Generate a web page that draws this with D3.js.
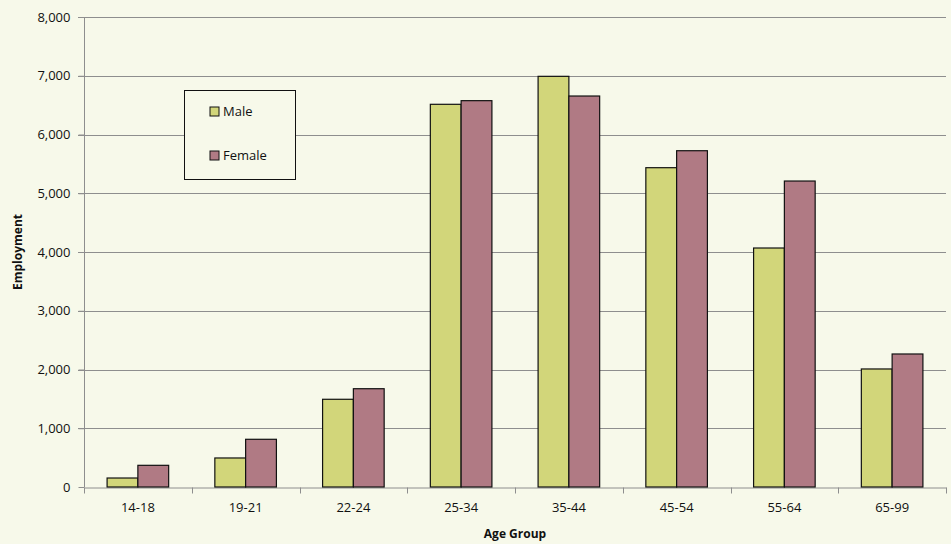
<!DOCTYPE html>
<html>
<head>
<meta charset="utf-8">
<script src="https://cdn.jsdelivr.net/npm/d3@7"></script>
<style>
  body { margin: 0; background: #f7f9ea; }
  text { font-family: "Open Sans", "Liberation Sans", sans-serif; fill: #111; }
</style>
</head>
<body>
<div id="chart"></div>
<script>
// Employment by age group and sex

let ageGroups = ["14-18", "19-21", "22-24", "25-34", "35-44", "45-54", "55-64", "65-99"];
let maleValues = [153, 494, 1493, 6514, 6990, 5435, 4068, 2009];
let femaleValues = [369, 812, 1673, 6576, 6655, 5724, 5208, 2264];
let seriesNames = ["Male", "Female"];
let yTicks = [0, 1000, 2000, 3000, 4000, 5000, 6000, 7000, 8000];

let colors = ["#d2d67a", "#b07a84"];

let width = 951, height = 544;
let margin = {top: 17, right: 5, bottom: 57, left: 84};

let svg = d3.select("#chart").append("svg")
    .attr("width", width)
    .attr("height", height);

svg.append("rect")
    .attr("width", width)
    .attr("height", height)
    .attr("fill", "#f7f9ea");

// scales
let x = d3.scaleBand()
    .domain(ageGroups)
    .range([margin.left, width - margin.right]);

let y = d3.scaleLinear()
    .domain([0, 8000])
    .range([height - margin.bottom, margin.top]);

// bar width: gap width 150% like excel
let barW = x.bandwidth() / 3.5;

// gridlines
svg.append("g")
    .selectAll("line")
    .data(yTicks.filter(d => d > 0))
    .join("line")
    .attr("x1", margin.left - 6)
    .attr("x2", width - margin.right)
    .attr("y1", d => Math.round(y(d)) + 0.5)
    .attr("y2", d => Math.round(y(d)) + 0.5)
    .attr("stroke", "#8e8e8e")
    .attr("stroke-width", 1);

// y axis
let yAxis = d3.axisLeft(y)
    .tickValues(yTicks)
    .tickFormat(d3.format(","))
    .tickSize(6)
    .tickPadding(8);

let gy = svg.append("g")
    .attr("transform", `translate(${margin.left + 0.5}, 0)`)
    .call(yAxis);
gy.selectAll("line").attr("stroke", "#8e8e8e");
gy.select(".domain").attr("stroke", "#8e8e8e").attr("d", `M0,${y(0)}V${margin.top}`);
gy.selectAll("text").attr("font-size", 13).style("fill", "#111");

// x axis
let xAxis = d3.axisBottom(x)
    .tickSize(0)
    .tickPadding(15);

let gx = svg.append("g")
    .attr("transform", `translate(0, ${Math.round(y(0)) + 0.5})`)
    .call(xAxis);
gx.select(".domain").attr("stroke", "#8e8e8e");
gx.selectAll("text").attr("font-size", 13).style("fill", "#111");

// category boundary ticks
let boundaries = ageGroups.map(d => x(d)).concat([x.range()[1]]);
gx.append("g")
    .selectAll("line")
    .data(boundaries)
    .join("line")
    .attr("x1", d => Math.round(d) + 0.5)
    .attr("x2", d => Math.round(d) + 0.5)
    .attr("y1", 0)
    .attr("y2", 6)
    .attr("stroke", "#8e8e8e");

// bars
let series = [maleValues, femaleValues];
series.forEach((vals, i) => {
    svg.append("g")
        .selectAll("rect")
        .data(ageGroups)
        .join("rect")
        .attr("x", (d) => x(d) + x.bandwidth() / 2 - barW + i * barW)
        .attr("y", (d, j) => y(vals[j]))
        .attr("width", barW)
        .attr("height", (d, j) => y(0) - y(vals[j]))
        .attr("fill", colors[i])
        .attr("stroke", "#111")
        .attr("stroke-width", 1.2);
});

// axis titles
svg.append("text")
    .attr("x", (margin.left + width - margin.right) / 2)
    .attr("y", 538)
    .attr("text-anchor", "middle")
    .attr("font-size", 12)
    .attr("font-weight", "bold")
    .text("Age Group");

svg.append("text")
    .attr("transform", `translate(22, ${(margin.top + height - margin.bottom) / 2}) rotate(-90)`)
    .attr("text-anchor", "middle")
    .attr("font-size", 12)
    .attr("font-weight", "bold")
    .text("Employment");

// legend
let legend = svg.append("g").attr("transform", "translate(184, 90)");
legend.append("rect")
    .attr("x", 0.5)
    .attr("y", 0.5)
    .attr("width", 111)
    .attr("height", 89)
    .attr("fill", "#f7f9ea")
    .attr("stroke", "#111")
    .attr("stroke-width", 1);

seriesNames.forEach((name, i) => {
    let row = legend.append("g").attr("transform", `translate(26, ${17 + i * 44})`);
    row.append("rect")
        .attr("width", 9)
        .attr("height", 9)
        .attr("fill", colors[i])
        .attr("stroke", "#111")
        .attr("stroke-width", 1);
    row.append("text")
        .attr("x", 13)
        .attr("y", 9)
        .attr("font-size", 13)
        .text(name);
});
</script>
</body>
</html>
